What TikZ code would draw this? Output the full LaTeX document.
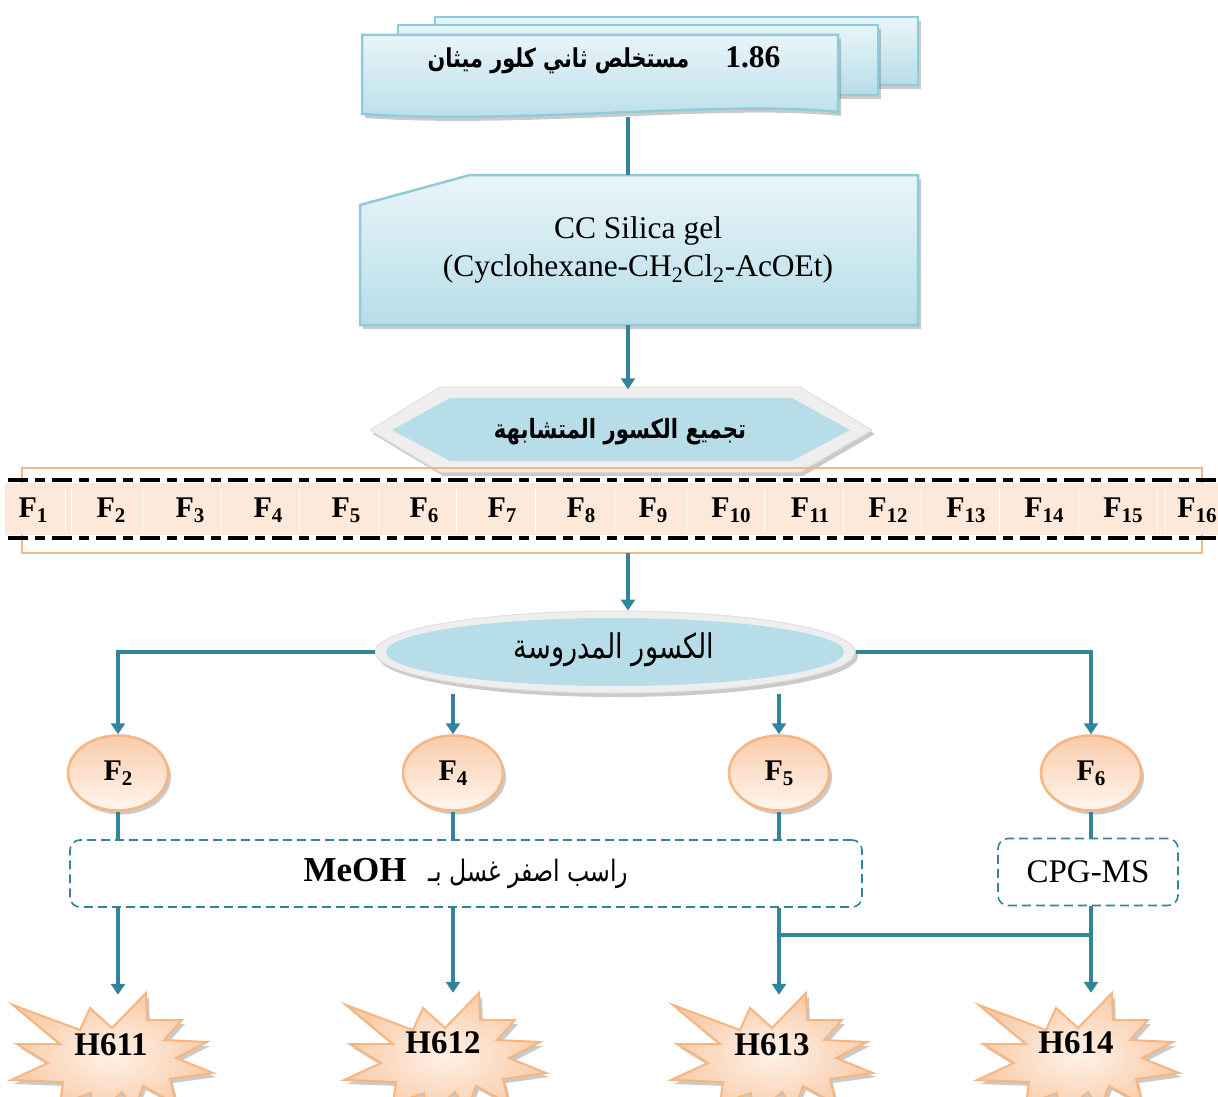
\documentclass[tikz,border=0pt]{standalone}
\usepackage{fontspec}
\setmainfont{Liberation Serif}
\newfontfamily\arabicfont[Script=Arabic]{DejaVu Sans}
\newfontfamily\arabicnarrow[Script=Arabic,FakeStretch=0.8]{DejaVu Sans}
\TeXXeTstate=1
\usetikzlibrary{shadows,arrows.meta,shapes.geometric}
\definecolor{teal1}{HTML}{31849B}
\definecolor{bluefill}{HTML}{B7DDE8}
\definecolor{bluetop}{HTML}{E9F5F9}
\definecolor{blueline}{HTML}{8FCBDB}
\definecolor{peach}{HTML}{FDE9D9}
\definecolor{peachdk}{HTML}{F9CBA8}
\definecolor{orangeline}{HTML}{F7B57F}
\definecolor{bevel}{HTML}{EEEEEE}
\newcommand\Fl[1]{\textbf{F\raisebox{-5pt}{\fontsize{21}{21}\selectfont #1}}}
\begin{document}
\begin{tikzpicture}[x=1pt,y=-1pt,
  conn/.style={draw=teal1,line width=3.5pt},
  arr/.style={conn,-{Triangle[width=14pt,length=11pt]}},
  big/.style={font=\fontsize{31.5}{38}\selectfont},
  fnt/.style={font=\fontsize{30}{32}\selectfont},
  shadowy/.style={drop shadow={shadow xshift=3pt,shadow yshift=-4pt,opacity=0.35,fill=black!60}},
  stackbox/.style={draw=blueline,line width=2.5pt,top color=bluetop,bottom color=bluefill},
  fell/.style={ellipse,minimum width=100pt,minimum height=75pt,inner sep=0pt,draw=orangeline,line width=2.5pt,top color=peachdk,bottom color=peach!40,shadowy,fnt},
  dbox/.style={draw=teal1,dash pattern=on 9pt off 5pt,rounded corners=10pt,line width=1.6pt,big},
  hnode/.style={minimum height=100pt,minimum width=150pt,inner sep=0pt,font=\fontsize{33}{35}\selectfont\bfseries},
  burst/.pic={\filldraw[draw=orangeline,line width=2pt,inner color=peach!60,outer color=peachdk,shadowy]
     (-99,-40) -- (-32,-15) -- (-22,-37) -- (0,-17) -- (34,-52) -- (35,-25) -- (70,-25) -- (52,-5) -- (95,-3) -- (64,13) -- (101,28) -- (58,34) -- (64,59) -- (31,41) -- (22,65) -- (10,47) -- (-19,72) -- (-21,48) -- (-52,59) -- (-49,37) -- (-101,35) -- (-64,18) -- (-95,-1) -- (-52,-1) -- cycle;}
]
\useasboundingbox (0,0) rectangle (1218,1097);
\coordinate (spine) at (628,0);
\coordinate (junc) at (0,935);

% top stacked boxes
\filldraw[stackbox,shadowy] (435,17) rectangle (918,85);
\filldraw[stackbox,shadowy] (398,25) rectangle (878,95);
\filldraw[stackbox,shadowy] (362,35) -- (838,35) -- (838,112) .. controls (720,100) and (520,125) .. (362,114) -- cycle;
\node[minimum width=476pt,minimum height=82pt,inner sep=0pt] (src) at (600,76) {};
\node[big] (srclabel) at (604,60) {{\arabicnarrow\bfseries\fontsize{26}{30}\selectfont\beginR مستخلص ثاني كلور ميثان\endR}\hspace{36pt}\textbf{1.86}};

% CC box
\filldraw[stackbox,shadowy] (360,205) -- (470,175) -- (918,175) -- (918,325) -- (360,325) -- cycle;
\node[big,align=center,minimum width=558pt,minimum height=150pt,inner sep=0pt] (cc) at (638,250) {CC Silica gel\\(Cyclohexane-CH\textsubscript{2}Cl\textsubscript{2}-AcOEt)};
\draw[conn] (src.south -| spine) -- (cc.north -| spine);

% hexagon
\filldraw[fill=bevel,draw=black!12,line width=1pt,shadowy] (370,430) -- (440,387) -- (800,387) -- (872,430) -- (800,472) -- (440,472) -- cycle;
\fill[bluefill] (392,430) -- (450,398) -- (792,398) -- (850,430) -- (792,461) -- (450,461) -- cycle;
\node[font=\fontsize{26.5}{30}\selectfont\arabicnarrow\bfseries,minimum width=502pt,minimum height=85pt,inner sep=0pt] (hex) at (620,432) {\beginR تجميع الكسور المتشابهة\endR};
\draw[arr] (cc.south -| spine) -- (hex.north -| spine);

% fraction band
\draw[orangeline,line width=1.5pt] (22,468) rectangle (1202,553);
\fill[peach] (5,483) rectangle (1218,535);
\foreach \x in {65,71,142,221,299,378,456,535,614,686,764,843,921,999,1078,1157,1165}
  \draw[white,line width=1pt] (\x,488) -- (\x,532);
\draw[black,line width=4pt,dash pattern=on 20pt off 7pt on 10pt off 7pt] (8,480) -- (1218,480);
\draw[black,line width=4pt,dash pattern=on 20pt off 7pt on 10pt off 7pt] (8,538) -- (1218,538);
\node[minimum width=1180pt,minimum height=85pt,inner sep=0pt] (band) at (612,510.5) {};
\node[fnt] (f1) at (33,510) {\Fl{1}};
\node[fnt] (f2) at (111,510) {\Fl{2}};
\node[fnt] (f3) at (190,510) {\Fl{3}};
\node[fnt] (f4) at (268,510) {\Fl{4}};
\node[fnt] (f5) at (346,510) {\Fl{5}};
\node[fnt] (f6) at (424,510) {\Fl{6}};
\node[fnt] (f7) at (502,510) {\Fl{7}};
\node[fnt] (f8) at (581,510) {\Fl{8}};
\node[fnt] (f9) at (653,510) {\Fl{9}};
\node[fnt] (f10) at (731,510) {\Fl{10}};
\node[fnt] (f11) at (810,510) {\Fl{11}};
\node[fnt] (f12) at (888,510) {\Fl{12}};
\node[fnt] (f13) at (966,510) {\Fl{13}};
\node[fnt] (f14) at (1044,510) {\Fl{14}};
\node[fnt] (f15) at (1123,510) {\Fl{15}};
\node[fnt] (f16) at (1197,510) {\Fl{16}};

% studied fractions ellipse
\node[ellipse,minimum width=480pt,minimum height=82pt,inner sep=0pt,fill=bevel,draw=black!12,line width=1pt,shadowy] (ell) at (615,652) {};
\fill[bluefill] (615,652) ellipse [x radius=229, y radius=34];
\node[font=\fontsize{34}{36}\selectfont\arabicnarrow] (elltext) at (614,650) {\beginR الكسور المدروسة\endR};
\draw[arr] (band.south -| spine) -- (ell.north -| spine);

% fraction ellipses
\node[fell] (e2) at (118,773) {\Fl{2}};
\node[fell] (e4) at (453,773) {\Fl{4}};
\node[fell] (e5) at (779,773) {\Fl{5}};
\node[fell] (e6) at (1091,773) {\Fl{6}};
\draw[arr] (ell.west) -| (e2.north);
\draw[arr] (ell.east) -| (e6.north);
\draw[arr] (ell.south -| e4.north) -- (e4.north);
\draw[arr] (ell.south -| e5.north) -- (e5.north);

% dashed boxes
\node[dbox,minimum width=792pt,minimum height=67pt] (m) at (466,873.5) {{\fontsize{35}{38}\selectfont\bfseries MeOH}\hspace{22pt}{\arabicnarrow\fontsize{29.5}{30}\selectfont\beginR راسب اصفر غسل بـ\endR}};
\node[dbox,minimum width=180pt,minimum height=67pt,font=\fontsize{33}{38}\selectfont] (cpg) at (1088,872) {CPG-MS};
\draw[conn] (e2.south) -- (e2.south |- m.north);
\draw[conn] (e4.south) -- (e4.south |- m.north);
\draw[conn] (e5.south) -- (e5.south |- m.north);
\draw[conn] (e6.south) -- (e6.south |- cpg.north);

% products
\pic at (112,1045) {burst};
\pic at (445,1045) {burst};
\pic at (772,1045) {burst};
\pic at (1078,1045) {burst};
\node[hnode] (h1) at (111,1045) {H611};
\node[hnode] (h2) at (443,1043) {H612};
\node[hnode] (h3) at (772,1045) {H613};
\node[hnode] (h4) at (1076,1043) {H614};
\draw[arr] (e2.south |- m.south) -- (e2.south |- h1.north);
\draw[arr] (e4.south |- m.south) -- (e4.south |- h2.north);
\draw[arr] (e5.south |- m.south) -- (e5.south |- h3.north);
\draw[conn] (junc -| e5.south) -- (junc -| e6.south);
\draw[arr] (e6.south |- cpg.south) -- (e6.south |- h4.north);
\end{tikzpicture}
\end{document}
